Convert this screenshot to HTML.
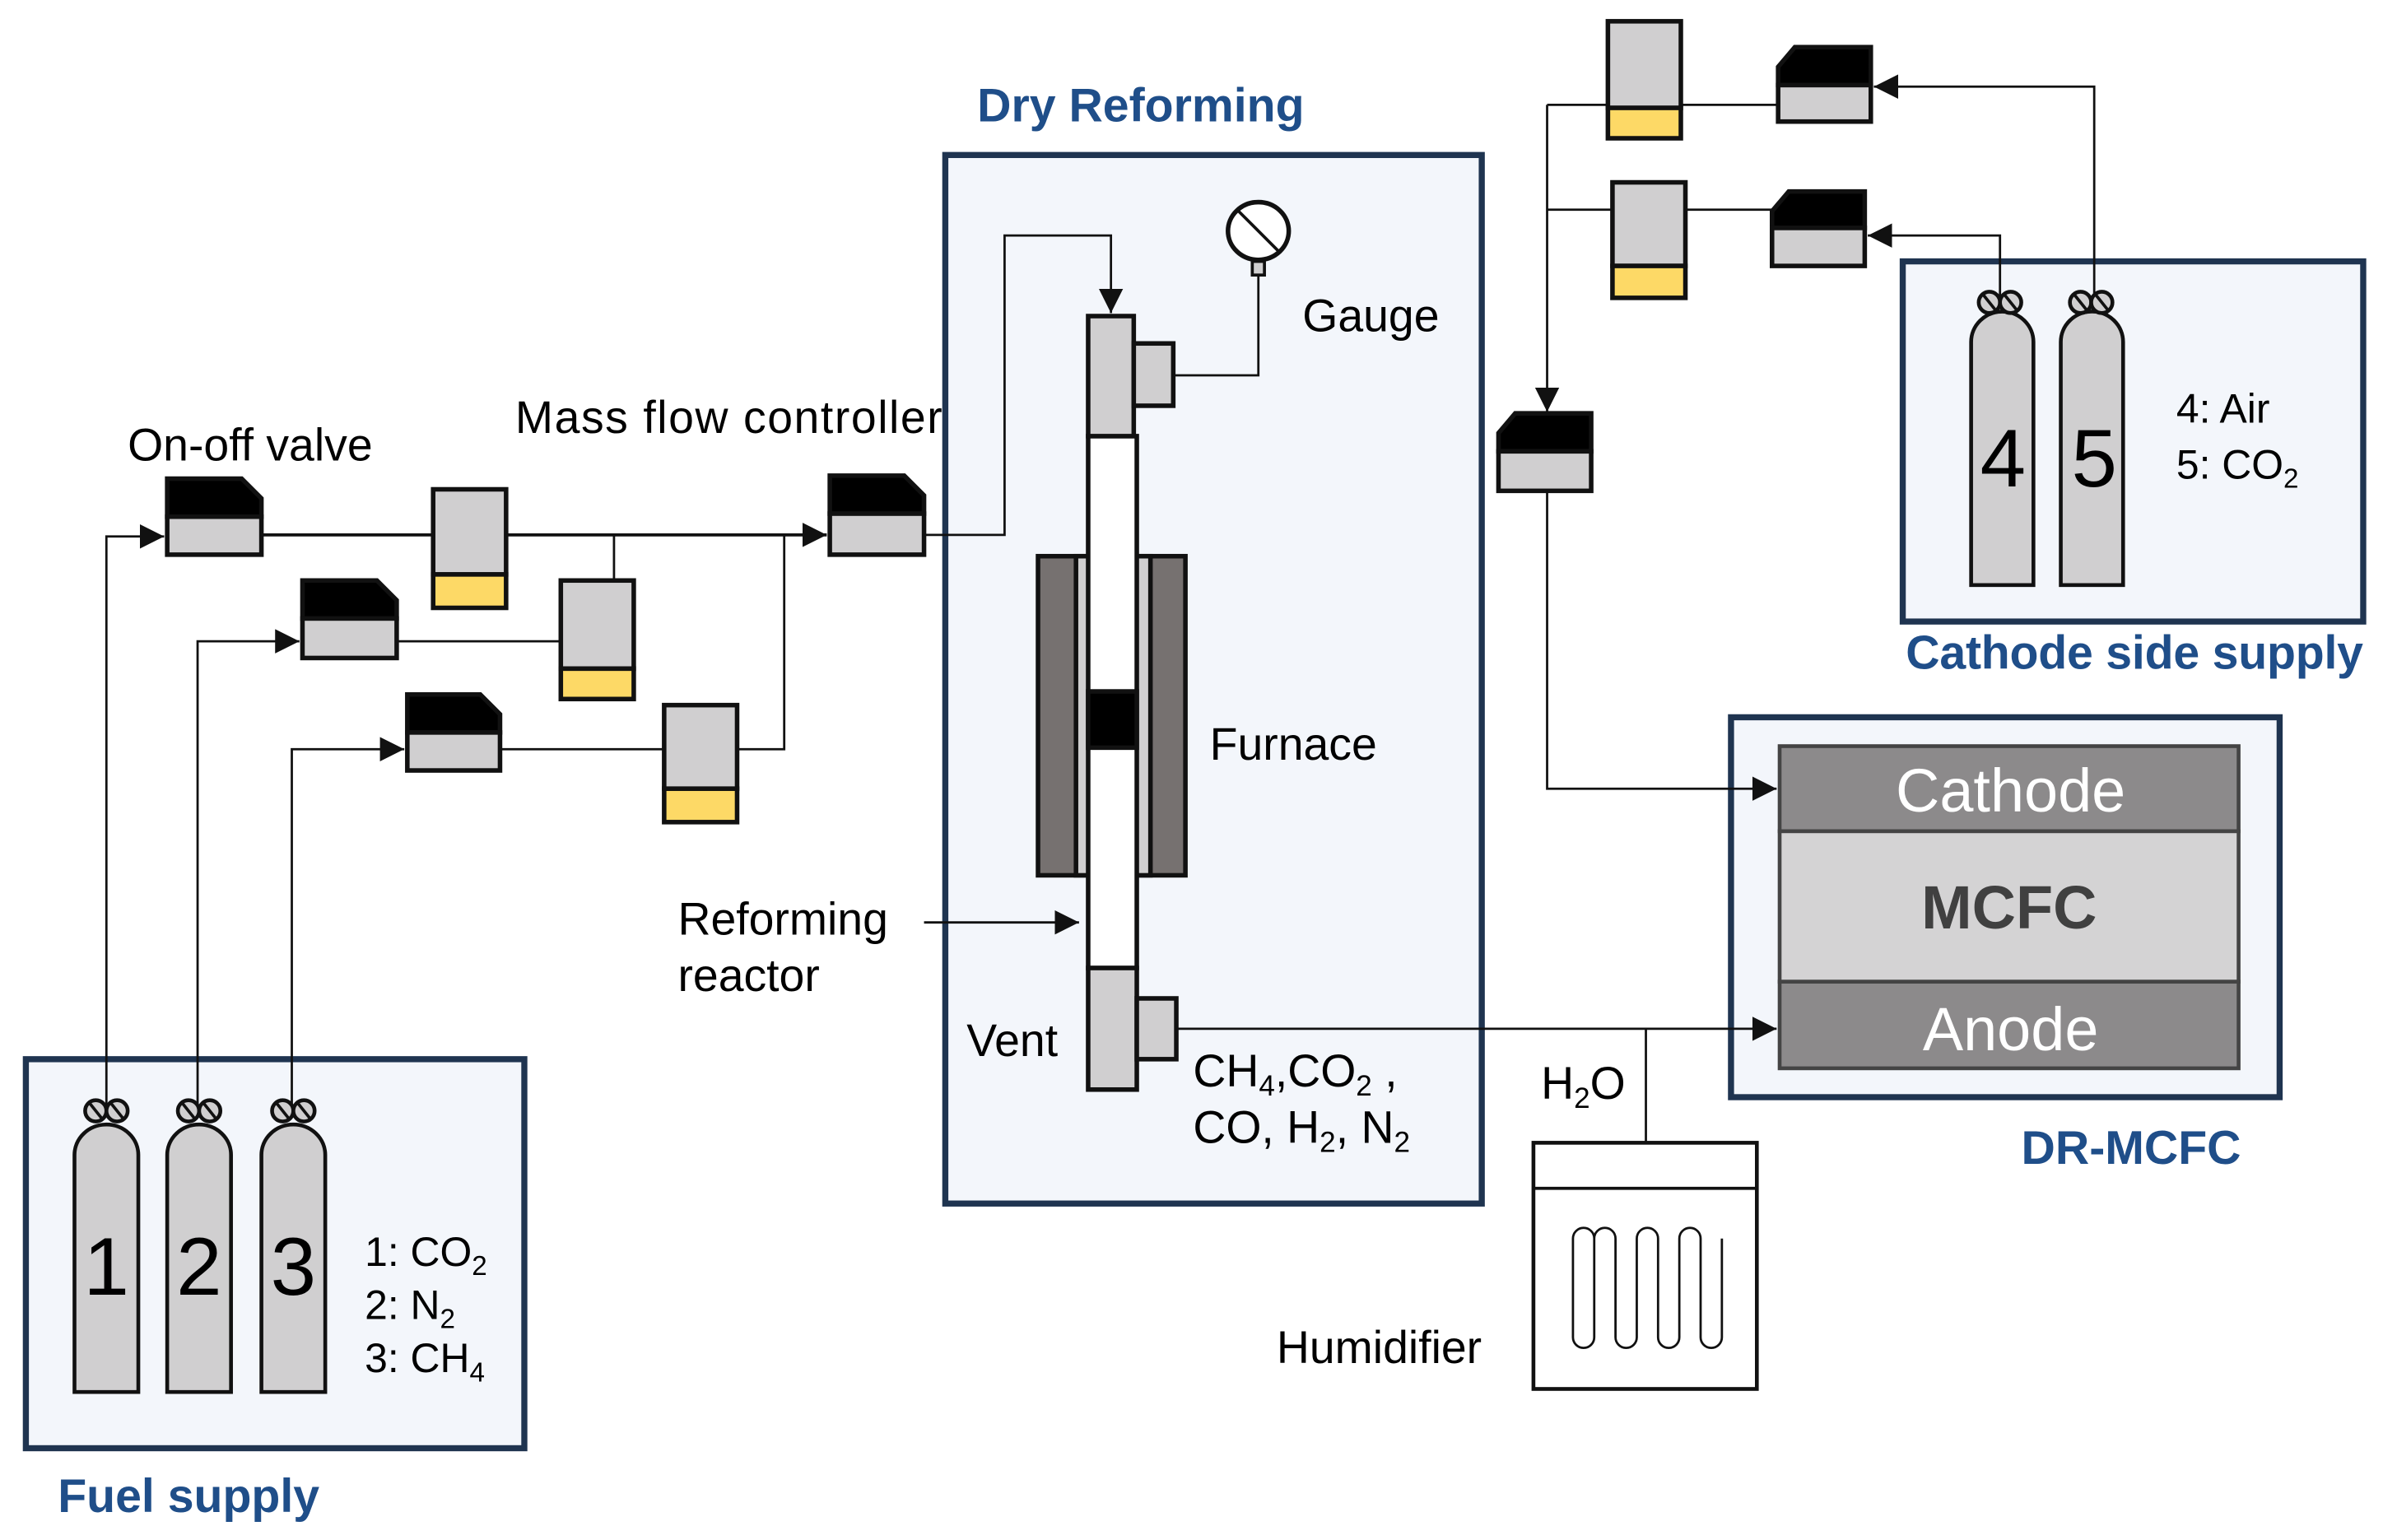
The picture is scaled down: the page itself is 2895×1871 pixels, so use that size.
<!DOCTYPE html>
<html><head><meta charset="utf-8"><style>
html,body{margin:0;padding:0;background:#fff}
svg{display:block}
text{font-family:"Liberation Sans",Arial,sans-serif}
.b{font-weight:bold;fill:#1f4e89;font-size:31px}
.t{font-size:30px;fill:#000}
</style></head><body>
<svg width="2895" height="1871" viewBox="0 0 1568 1013.4" xmlns="http://www.w3.org/2000/svg">
<defs>
<marker id="ar2" viewBox="0 0 10 10" refX="10" refY="5" markerWidth="16" markerHeight="16" markerUnits="userSpaceOnUse" orient="auto"><path d="M0,0 L10,5 L0,10 z" fill="#111"/></marker>
</defs>
<rect x="17" y="697" width="328" height="256" fill="#f3f6fb" stroke="#1f3450" stroke-width="4"/>
<rect x="622" y="102" width="353" height="690" fill="#f3f6fb" stroke="#1f3450" stroke-width="4"/>
<rect x="1139" y="472" width="361" height="250" fill="#f3f6fb" stroke="#1f3450" stroke-width="4"/>
<rect x="1252" y="172" width="303" height="237" fill="#f3f6fb" stroke="#1f3450" stroke-width="4"/>
<g fill="none" stroke="#111" stroke-width="1.5">
<polyline points="70,730 70,353 108,353" marker-end="url(#ar2)"/>
<polyline points="130,730 130,422 197,422" marker-end="url(#ar2)"/>
<polyline points="192,730 192,493 266,493" marker-end="url(#ar2)"/>
<line x1="172" y1="352" x2="544" y2="352" marker-end="url(#ar2)" stroke-width="2"/>
<line x1="261" y1="422" x2="369" y2="422"/>
<line x1="404" y1="352" x2="404" y2="382"/>
<line x1="329" y1="493" x2="437" y2="493"/>
<polyline points="485,493 516,493 516,352"/>
<polyline points="608,352 661,352 661,155 731,155 731,206" marker-end="url(#ar2)"/>
<polyline points="772,247 828,247 828,182"/>
<line x1="608" y1="607" x2="710" y2="607" marker-end="url(#ar2)"/>
<line x1="774" y1="677" x2="1169" y2="677" marker-end="url(#ar2)"/>
<line x1="1083" y1="677" x2="1083" y2="752"/>
<polyline points="1378,198 1378,57 1233,57" marker-end="url(#ar2)"/>
<polyline points="1316,198 1316,155 1229,155" marker-end="url(#ar2)"/>
<line x1="1170" y1="69" x2="1018" y2="69"/>
<line x1="1166" y1="138" x2="1018" y2="138"/>
<line x1="1018" y1="69" x2="1018" y2="271" marker-end="url(#ar2)"/>
<polyline points="1018,323 1018,519 1169,519" marker-end="url(#ar2)"/>
</g>
<g stroke="#111" stroke-width="3">
<path d="M110,315 H159 L172,328 V340 H110 Z" fill="#000"/><rect x="110" y="340" width="62" height="25" fill="#d0cfd0"/>
<path d="M199,382 H248 L261,395 V407 H199 Z" fill="#000"/><rect x="199" y="407" width="62" height="26" fill="#d0cfd0"/>
<path d="M268,457 H316 L329,470 V482 H268 Z" fill="#000"/><rect x="268" y="482" width="61" height="25" fill="#d0cfd0"/>
<path d="M546,313 H595 L608,326 V338 H546 Z" fill="#000"/><rect x="546" y="338" width="62" height="27" fill="#d0cfd0"/>
<path d="M1181,31 H1231 V56 H1170 V44 Z" fill="#000"/><rect x="1170" y="56" width="61" height="24" fill="#d0cfd0"/>
<path d="M1177,126 H1227 V150 H1166 V139 Z" fill="#000"/><rect x="1166" y="150" width="61" height="25" fill="#d0cfd0"/>
<path d="M997,272 H1047 V297 H986 V285 Z" fill="#000"/><rect x="986" y="297" width="61" height="26" fill="#d0cfd0"/>
<rect x="285" y="322" width="48" height="56" fill="#d0cfd0"/><rect x="285" y="378" width="48" height="22" fill="#fdd966"/>
<rect x="369" y="382" width="48" height="58" fill="#d0cfd0"/><rect x="369" y="440" width="48" height="20" fill="#fdd966"/>
<rect x="437" y="464" width="48" height="55" fill="#d0cfd0"/><rect x="437" y="519" width="48" height="22" fill="#fdd966"/>
<rect x="1058" y="14" width="48" height="57" fill="#d0cfd0"/><rect x="1058" y="71" width="48" height="20" fill="#fdd966"/>
<rect x="1061" y="120" width="48" height="55" fill="#d0cfd0"/><rect x="1061" y="175" width="48" height="21" fill="#fdd966"/>
</g>
<g stroke="#111" stroke-width="2.5" fill="#d0cfd0">
<path d="M49,916 V760 A21,20 0 0 1 91,760 V916 Z"/>
<path d="M110,916 V760 A21,20 0 0 1 152,760 V916 Z"/>
<path d="M172,916 V760 A21,20 0 0 1 214,760 V916 Z"/>
<path d="M1297,385 V225 A20.5,20 0 0 1 1338,225 V385 Z"/>
<path d="M1356,385 V225 A20.5,20 0 0 1 1397,225 V385 Z"/>
<circle cx="63" cy="731" r="7"/><circle cx="77" cy="731" r="7"/>
<circle cx="124" cy="731" r="7"/><circle cx="138" cy="731" r="7"/>
<circle cx="186" cy="731" r="7"/><circle cx="200" cy="731" r="7"/>
<circle cx="1309" cy="199" r="7"/><circle cx="1323" cy="199" r="7"/>
<circle cx="1369" cy="199" r="7"/><circle cx="1383" cy="199" r="7"/>
</g>
<g stroke="#111" stroke-width="2">
<path d="M59,726 L67,736 M73,726 L81,736 M120,726 L128,736 M134,726 L142,736 M182,726 L190,736 M196,726 L204,736 M1305,194 L1313,204 M1319,194 L1327,204 M1365,194 L1373,204 M1379,194 L1387,204"/>
</g>
<g font-size="54" text-anchor="middle" fill="#000">
<text x="70" y="852">1</text><text x="131" y="852">2</text><text x="193" y="852">3</text>
<text x="1318" y="320">4</text><text x="1378" y="320">5</text>
</g>
<g fill="#000" font-size="27">
<text x="240" y="833">1: CO<tspan font-size="18" dy="6">2</tspan></text>
<text x="240" y="868">2: N<tspan font-size="18" dy="6">2</tspan></text>
<text x="240" y="903">3: CH<tspan font-size="18" dy="6">4</tspan></text>
<text x="1432" y="278">4: Air</text>
<text x="1432" y="315">5: CO<tspan font-size="18" dy="6">2</tspan></text>
</g>
<g stroke="#111" stroke-width="3">
<rect x="683" y="366" width="97" height="210" fill="#767170"/>
<rect x="708" y="366" width="49" height="210" fill="#d0cfd0"/>
<rect x="716" y="287" width="32" height="350" fill="#fff"/>
<rect x="716" y="455" width="32" height="37" fill="#000"/>
<rect x="716" y="208" width="30" height="79" fill="#d0cfd0"/>
<rect x="746" y="226" width="26" height="41" fill="#d0cfd0"/>
<rect x="716" y="637" width="32" height="80" fill="#d0cfd0"/>
<rect x="748" y="657" width="26" height="40" fill="#d0cfd0"/>
<ellipse cx="828" cy="152" rx="20" ry="19" fill="#fff"/>
<line x1="815" y1="139" x2="841" y2="165" stroke-width="2"/>
<rect x="824" y="172" width="8" height="9" fill="#d0cfd0" stroke-width="2"/>
</g>
<rect x="1009" y="752" width="147" height="162" fill="#fff" stroke="#111" stroke-width="2.5"/>
<line x1="1009" y1="782" x2="1156" y2="782" stroke="#111" stroke-width="2"/>
<path d="M1049,880 V815 A7,7 0 0 0 1035,815 V880 A7,7 0 0 0 1049,880 M1049,815 A7,7 0 0 1 1063,815 V880 A7,7 0 0 0 1077,880 V815 A7,7 0 0 1 1091,815 V880 A7,7 0 0 0 1105,880 V815 A7,7 0 0 1 1119,815 V880 A7,7 0 0 0 1133,880 V815" fill="none" stroke="#111" stroke-width="1.5"/>
<g stroke="#444" stroke-width="2.5">
<rect x="1171" y="491" width="302" height="56" fill="#8c8a8b"/>
<rect x="1171" y="547" width="302" height="99" fill="#d4d3d4"/>
<rect x="1171" y="646" width="302" height="57" fill="#8c8a8b"/>
</g>
<text x="1323" y="534" font-size="40" fill="#fff" text-anchor="middle">Cathode</text>
<text x="1322" y="611" font-size="40" font-weight="bold" fill="#404040" text-anchor="middle">MCFC</text>
<text x="1323" y="691" font-size="40" fill="#fff" text-anchor="middle">Anode</text>
<text class="b" x="643" y="80">Dry Reforming</text>
<text class="b" x="38" y="995">Fuel supply</text>
<text class="b" x="1254" y="440" textLength="301">Cathode side supply</text>
<text class="b" x="1330" y="766">DR-MCFC</text>
<text class="t" x="84" y="303">On-off valve</text>
<text class="t" x="339" y="285" textLength="281">Mass flow controller</text>
<text class="t" x="857" y="218">Gauge</text>
<text class="t" x="796" y="500">Furnace</text>
<text class="t" x="446" y="615">Reforming</text>
<text class="t" x="446" y="652">reactor</text>
<text class="t" x="636" y="695">Vent</text>
<text class="t" x="785" y="715">CH<tspan font-size="19" dy="6">4</tspan><tspan dy="-6">,CO</tspan><tspan font-size="19" dy="6">2</tspan><tspan dy="-6"> ,</tspan></text>
<text class="t" x="785" y="752">CO, H<tspan font-size="19" dy="6">2</tspan><tspan dy="-6">, N</tspan><tspan font-size="19" dy="6">2</tspan></text>
<text class="t" x="1014" y="723">H<tspan font-size="19" dy="6">2</tspan><tspan dy="-6">O</tspan></text>
<text class="t" x="840" y="897">Humidifier</text>
</svg>
</body></html>
